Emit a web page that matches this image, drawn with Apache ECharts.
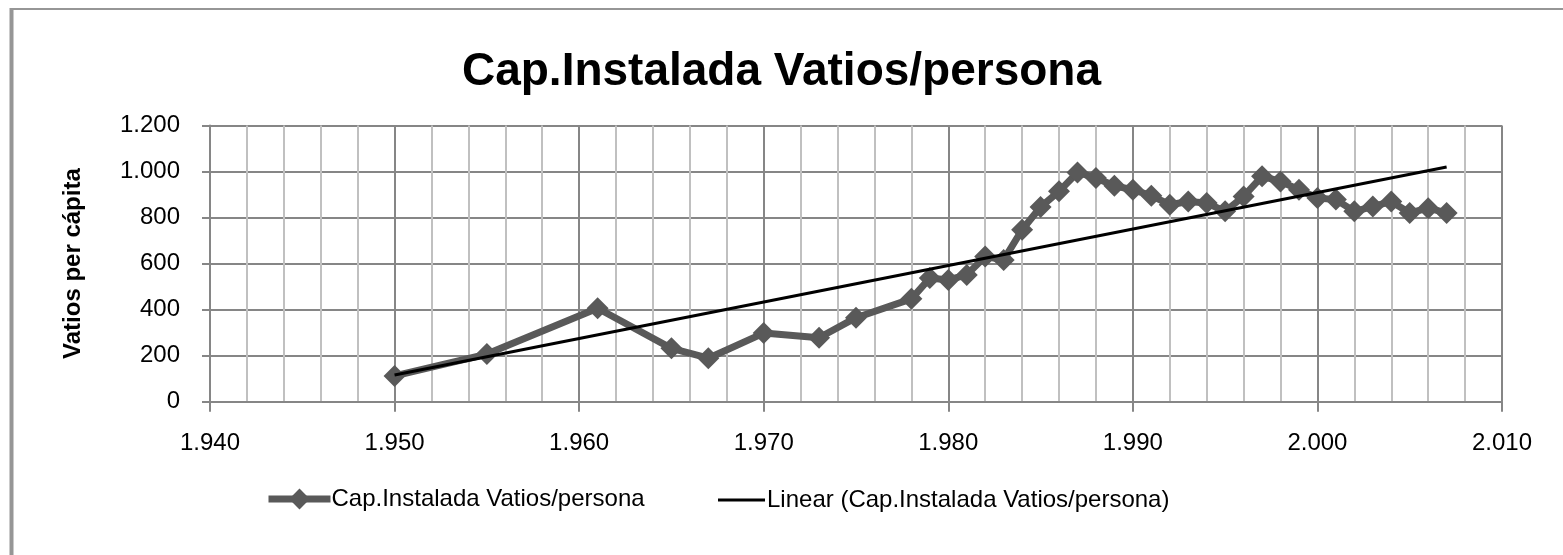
<!DOCTYPE html>
<html>
<head>
<meta charset="utf-8">
<script src="https://cdn.jsdelivr.net/npm/echarts@6/dist/echarts.min.js"></script>
<style>
html,body{margin:0;padding:0;background:#fff;}
#chart{width:1563px;height:555px;}
</style>
</head>
<body>
<div id="chart"></div>
<script>
const titleText = 'Cap.Instalada Vatios/persona';
const seriesName = 'Cap.Instalada Vatios/persona';
const trendName = 'Linear (Cap.Instalada Vatios/persona)';
const yAxisName = 'Vatios per cápita';
const years = [1950,1955,1961,1965,1967,1970,1973,1975,1978,1979,1980,1981,1982,1983,1984,1985,1986,1987,1988,1989,1990,1991,1992,1993,1994,1995,1996,1997,1998,1999,2000,2001,2002,2003,2004,2005,2006,2007];
const values = [112,207,406,232,189,298,278,365,447,537,529,551,631,616,747,846,914,996,972,938,921,895,856,870,863,827,892,979,957,921,885,878,827,848,870,820,841,820];
const trendYears = [1950, 2007];
const trendValues = [116, 1020];
const xTicks = {min:1940, max:2010, interval:10};
const yTicks = {min:0, max:1200, interval:200};

const fmt = v => String(v).replace(/\B(?=(\d{3})+(?!\d))/g, '.');
const font = 'Liberation Sans';

const chart = echarts.init(document.getElementById('chart'), null, {renderer:'canvas'});
chart.setOption({
  animation:false,
  backgroundColor:'#fff',
  title:{
    text:titleText, left:'center', top:44,
    textStyle:{fontFamily:font, fontWeight:'bold', fontSize:46, color:'#000'}
  },
  grid:{left:210, right:61, top:125.5, bottom:153.3},
  legend:[
    {data:[seriesName], left:260, top:482, itemWidth:62, itemHeight:26, itemGap:0,
     lineStyle:{width:7, color:'#595959'},
     textStyle:{fontFamily:font, fontSize:24, color:'#000', padding:[0,0,0,-4]}},
    {data:[{name:trendName, icon:'rect'}], left:713, top:483, itemWidth:47, itemHeight:3, itemGap:0,
     itemStyle:{color:'#000'},
     textStyle:{fontFamily:font, fontSize:24, color:'#000', padding:[0,0,0,-3]}}
  ],
  xAxis:{
    type:'value', min:xTicks.min, max:xTicks.max, interval:xTicks.interval,
    axisLine:{show:true, onZero:false, lineStyle:{color:'#868686', width:2}},
    axisTick:{show:true, length:10, lineStyle:{color:'#868686', width:2}},
    axisLabel:{formatter:fmt, margin:30, fontFamily:font, fontSize:24, color:'#000'},
    splitLine:{show:true, lineStyle:{color:'#868686', width:2}},
    minorTick:{show:false, splitNumber:5},
    minorSplitLine:{show:true, lineStyle:{color:'#c0c0c0', width:2}}
  },
  yAxis:{
    type:'value', min:yTicks.min, max:yTicks.max, interval:yTicks.interval,
    name:yAxisName, nameLocation:'middle', nameGap:125, nameRotate:90,
    nameTextStyle:{fontFamily:font, fontWeight:'bold', fontSize:24, color:'#000'},
    axisLine:{show:true, lineStyle:{color:'#868686', width:2}},
    axisTick:{show:true, length:8, lineStyle:{color:'#868686', width:2}},
    axisLabel:{formatter:fmt, margin:30, fontFamily:font, fontSize:24, color:'#000'},
    splitLine:{show:true, lineStyle:{color:'#868686', width:2}}
  },
  series:[
    {
      name:seriesName, type:'line', z:2,
      data:years.map((y,i)=>[y, values[i]]),
      symbol:'diamond', symbolSize:22,
      lineStyle:{color:'#595959', width:7},
      itemStyle:{color:'#595959'}
    },
    {
      name:trendName, type:'line', z:3,
      data:trendYears.map((y,i)=>[y, trendValues[i]]),
      symbol:'none',
      lineStyle:{color:'#000', width:3},
      itemStyle:{color:'#000'}
    }
  ],
  graphic:[
    {type:'line', shape:{x1:11.5, y1:8, x2:11.5, y2:555}, style:{stroke:'#969696', lineWidth:4}, silent:true},
    {type:'line', shape:{x1:10, y1:9, x2:1563, y2:9}, style:{stroke:'#969696', lineWidth:2}, silent:true}
  ]
});
</script>
</body>
</html>
